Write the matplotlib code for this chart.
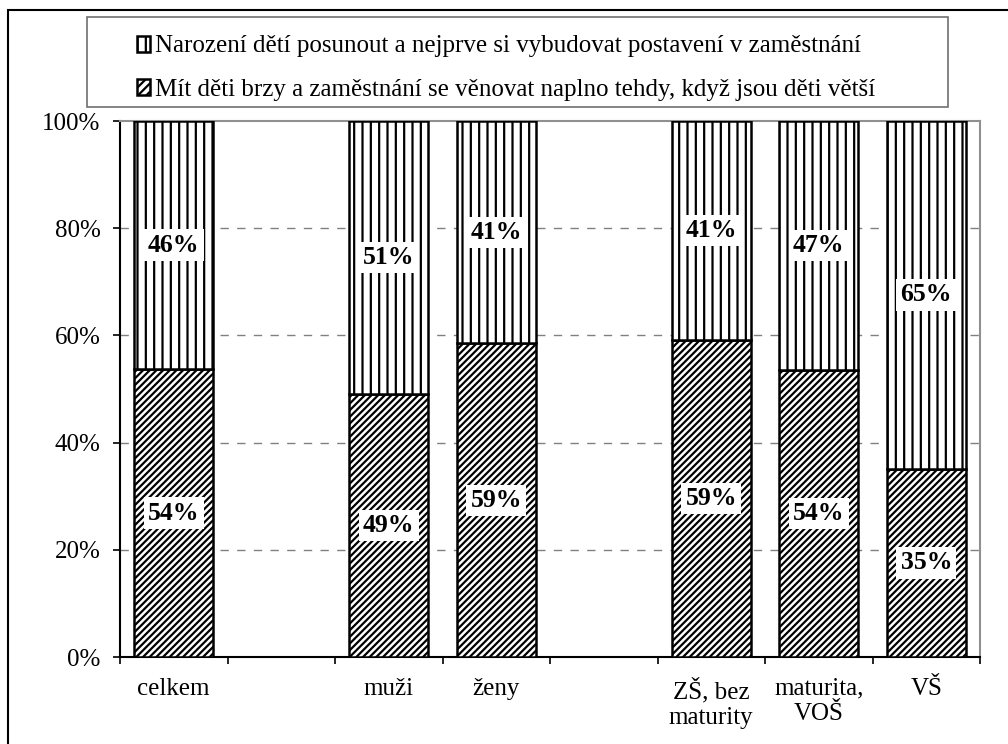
import numpy as np
import matplotlib
matplotlib.use("Agg")
import matplotlib.pyplot as plt
from matplotlib.patches import Patch, Rectangle

# Data (blank slots are gaps between groups)
categories = ["celkem", "", "muži", "ženy", "", "ZŠ, bez\nmaturity", "maturita,\nVOŠ", "VŠ"]
mit_brzy = [53.7, np.nan, 49.0, 58.5, np.nan, 59.1, 53.5, 35.1]
posunout = [46.3, np.nan, 51.0, 41.5, np.nan, 40.9, 46.5, 64.9]
mit_brzy_lbl = ["54%", "", "49%", "59%", "", "59%", "54%", "35%"]
posunout_lbl = ["46%", "", "51%", "41%", "", "41%", "47%", "65%"]
series_names = ["Narození dětí posunout a nejprve si vybudovat postavení v zaměstnání",
                "Mít děti brzy a zaměstnání se věnovat naplno tehdy, když jsou děti větší"]
yticks = [0, 20, 40, 60, 80, 100]

plt.rcParams["font.family"] = ["Liberation Serif", "DejaVu Serif"]
plt.rcParams["hatch.linewidth"] = 1.6
FS = 18

fig = plt.figure(figsize=(10.08, 7.44), dpi=100)
ax = fig.add_axes([120/1008, 1-657/744, 860/1008, 536/744])

x = np.arange(len(categories)) + 0.5
w = 0.735
brzy = np.nan_to_num(np.array(mit_brzy, dtype=float))
pos = np.nan_to_num(np.array(posunout, dtype=float))
mask = ~np.isnan(np.array(mit_brzy, dtype=float))

ax.bar(x[mask], brzy[mask], w, color="white", edgecolor="black", hatch="/////",
       linewidth=1.8, zorder=3)
ax.bar(x[mask], pos[mask], w, bottom=brzy[mask], color="white", edgecolor="black",
       hatch="||", linewidth=1.8, zorder=3)

box = dict(facecolor="white", edgecolor="none", pad=3)
for i in range(len(categories)):
    if not mask[i]:
        continue
    ax.text(x[i], brzy[i]/2, mit_brzy_lbl[i], ha="center", va="center",
            fontsize=18.5, fontweight="bold", bbox=box, zorder=5)
    ax.text(x[i], brzy[i] + pos[i]/2, posunout_lbl[i], ha="center", va="center",
            fontsize=18.5, fontweight="bold", bbox=box, zorder=5)

ax.set_xlim(0, len(categories))
ax.set_ylim(0, 100)
ax.set_yticks(yticks)
ax.set_yticklabels([f"{v}%" for v in yticks], fontsize=FS)
ax.set_xticks(np.arange(len(categories) + 1))
ax.set_xticklabels([])
ax.set_xticks(x, minor=True)
ax.set_xticklabels(categories, minor=True, fontsize=FS, linespacing=1.2)
ax.tick_params(axis="x", which="minor", length=0, pad=15)
ax.tick_params(axis="both", which="major", direction="out", length=5, width=1.2)
ax.tick_params(axis="y", pad=9)

for v in yticks[1:-1]:
    ax.axhline(v, color="#808080", linestyle=(0, (6, 6)), linewidth=1, zorder=1)

ax.spines["left"].set_linewidth(1.5)
ax.spines["bottom"].set_linewidth(1.5)
ax.spines["top"].set_color("#909090")
ax.spines["right"].set_color("#909090")
ax.spines["top"].set_linewidth(1.5)
ax.spines["right"].set_linewidth(1.5)

# legend with its own frame
fig.patches.append(Rectangle((87/1008, 1-107/744), 861/1008, 90/744,
                             transform=fig.transFigure, facecolor="white",
                             edgecolor="#707070", linewidth=1.2))
handles = [Patch(facecolor="white", edgecolor="black", hatch="||", linewidth=1.8),
           Patch(facecolor="white", edgecolor="black", hatch="////", linewidth=1.8)]
fig.legend(handles, series_names, loc="center", bbox_to_anchor=(506/1008, 1-68/744),
           frameon=False, fontsize=FS, handlelength=0.55, handleheight=0.6,
           handletextpad=0.2, labelspacing=0.85)

# outer chart frame
fig.patches.append(Rectangle((8/1008, -0.1), 1.2, 1.1 - 10/744,
                             transform=fig.transFigure, fill=False,
                             edgecolor="black", linewidth=1.5))

fig.savefig("out.png", dpi=100)
